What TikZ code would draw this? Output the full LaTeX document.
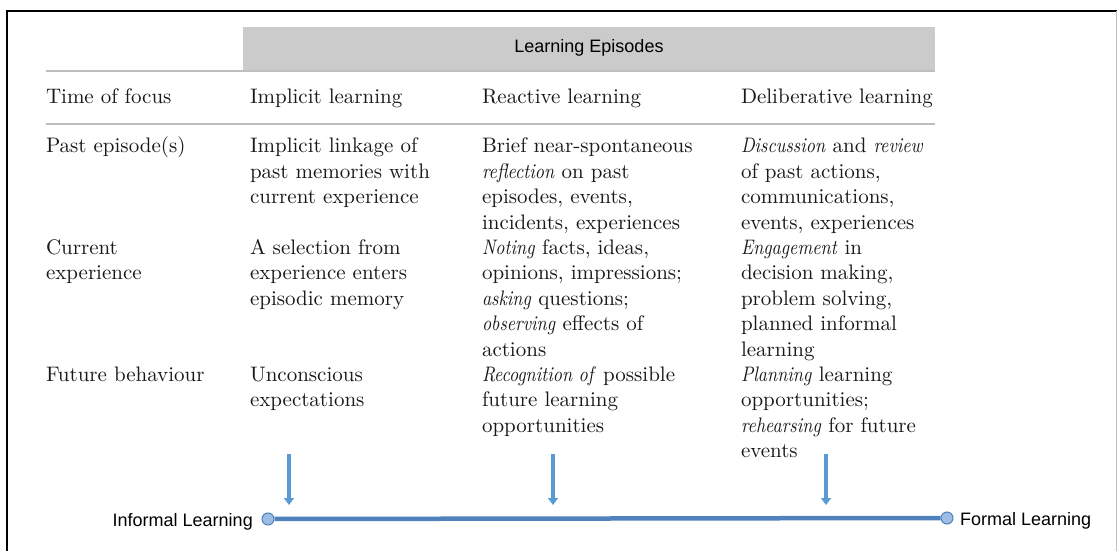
\documentclass[tikz,border=0pt]{standalone}
\usepackage{fontspec}
\newfontfamily\arialfont{Liberation Sans}
\newfontfamily\cellrm{lmroman10-regular.otf}[ItalicFont=lmroman10-italic.otf, ItalicFeatures={FakeStretch=0.86}]
\usetikzlibrary{arrows.meta}
\definecolor{bandgray}{HTML}{CBCBCB}
\definecolor{rulegray}{HTML}{BEBEBE}
\definecolor{lineblue}{HTML}{4F81BD}
\definecolor{arrowblue}{HTML}{5B9BD5}
\definecolor{dotfill}{HTML}{9DBDE6}
\newcommand{\cellfont}{\cellrm\fontsize{21.0}{25.4}\selectfont}
\begin{document}
\begin{tikzpicture}[x=1pt,y=-1pt,
  cell/.style={anchor=north west, inner sep=0pt, outer sep=0pt, align=left, font=\cellfont, text=black!90},
  sanslabel/.style={inner sep=0pt, font=\arialfont\fontsize{18}{21}\selectfont},
  rulestyle/.style={draw=rulegray, line width=1.5pt},
  downarrow/.style={draw=arrowblue, line width=3.5pt, -{Triangle[width=10pt,length=7pt]}},
  dot/.style={circle, draw=lineblue, fill=dotfill, line width=1pt, minimum size=12pt, inner sep=0pt}
]
\useasboundingbox (0,0) rectangle (1117,551);
\fill[white] (0,0) rectangle (1117,551);
% frame
\draw[line width=2.5pt] (7,560) -- (7,11) -- (1120,11);
\draw[black!25, line width=1pt] (1116,11) -- (1116,560);
% header band
\fill[bandgray] (243,27) rectangle (935,70);
\node[sanslabel] (hdr) at (589,48) {Learning Episodes};
\draw[rulestyle] (46,71) -- (935,71);
\draw[rulestyle] (46,124) -- (935,124);
% header row
\node[cell] (h0) at (46,86.2) {\strut Time of focus};
\node[cell] (h1) at (250,86.2) {\strut Implicit learning};
\node[cell] (h2) at (482,86.2) {\strut Reactive learning};
\node[cell] (h3) at (741,86.2) {\strut Deliberative learning};
% row: past
\node[cell] (r1c0) at (46,135.2) {\strut Past episode(s)};
\node[cell] (r1c1) at (250,135.2) {\strut Implicit linkage of\\past memories with\\current experience};
\node[cell] (r1c2) at (482,135.2) {\strut Brief near-spontaneous\\\textit{reflection} on past\\episodes, events,\\incidents, experiences};
\node[cell] (r1c3) at (741,135.2) {\strut\textit{Discussion} and \textit{review}\\of past actions,\\communications,\\events, experiences};
% row: current
\node[cell] (r2c0) at (46,236.8) {\strut Current\\experience};
\node[cell] (r2c1) at (250,236.8) {\strut A selection from\\experience enters\\episodic memory};
\node[cell] (r2c2) at (482,236.8) {\strut\textit{Noting} facts, ideas,\\opinions, impressions;\\\textit{asking} questions;\\\textit{observing} effects of\\actions};
\node[cell] (r2c3) at (741,236.8) {\strut\textit{Engagement} in\\decision making,\\problem solving,\\planned informal\\learning};
% row: future
\node[cell] (r3c0) at (46,363.8) {\strut Future behaviour};
\node[cell] (r3c1) at (250,363.8) {\strut Unconscious\\expectations};
\node[cell] (r3c2) at (482,363.8) {\strut\textit{Recognition of} possible\\future learning\\opportunities};
\node[cell] (r3c3) at (741,363.8) {\strut\textit{Planning} learning\\opportunities;\\\textit{rehearsing} for future\\events};
% arrows
\coordinate (a1t) at (289,454);
\coordinate (a1b) at (289,505);
\coordinate (a2t) at (553,454);
\coordinate (a2b) at (553,505);
\coordinate (a3t) at (826,454);
\coordinate (a3b) at (826,505);
\draw[downarrow] (a1t) -- (a1b);
\draw[downarrow] (a2t) -- (a2b);
\draw[downarrow] (a3t) -- (a3b);
% scale line
\node[dot] (dotL) at (268,519) {};
\node[dot] (dotR) at (947,518) {};
\draw[lineblue, line width=4.5pt] (dotL) -- (dotR);
\node[sanslabel, anchor=base east] (inf) at (253,526) {Informal Learning};
\node[sanslabel, anchor=base west] (form) at (960,525) {Formal Learning};
\end{tikzpicture}
\end{document}
